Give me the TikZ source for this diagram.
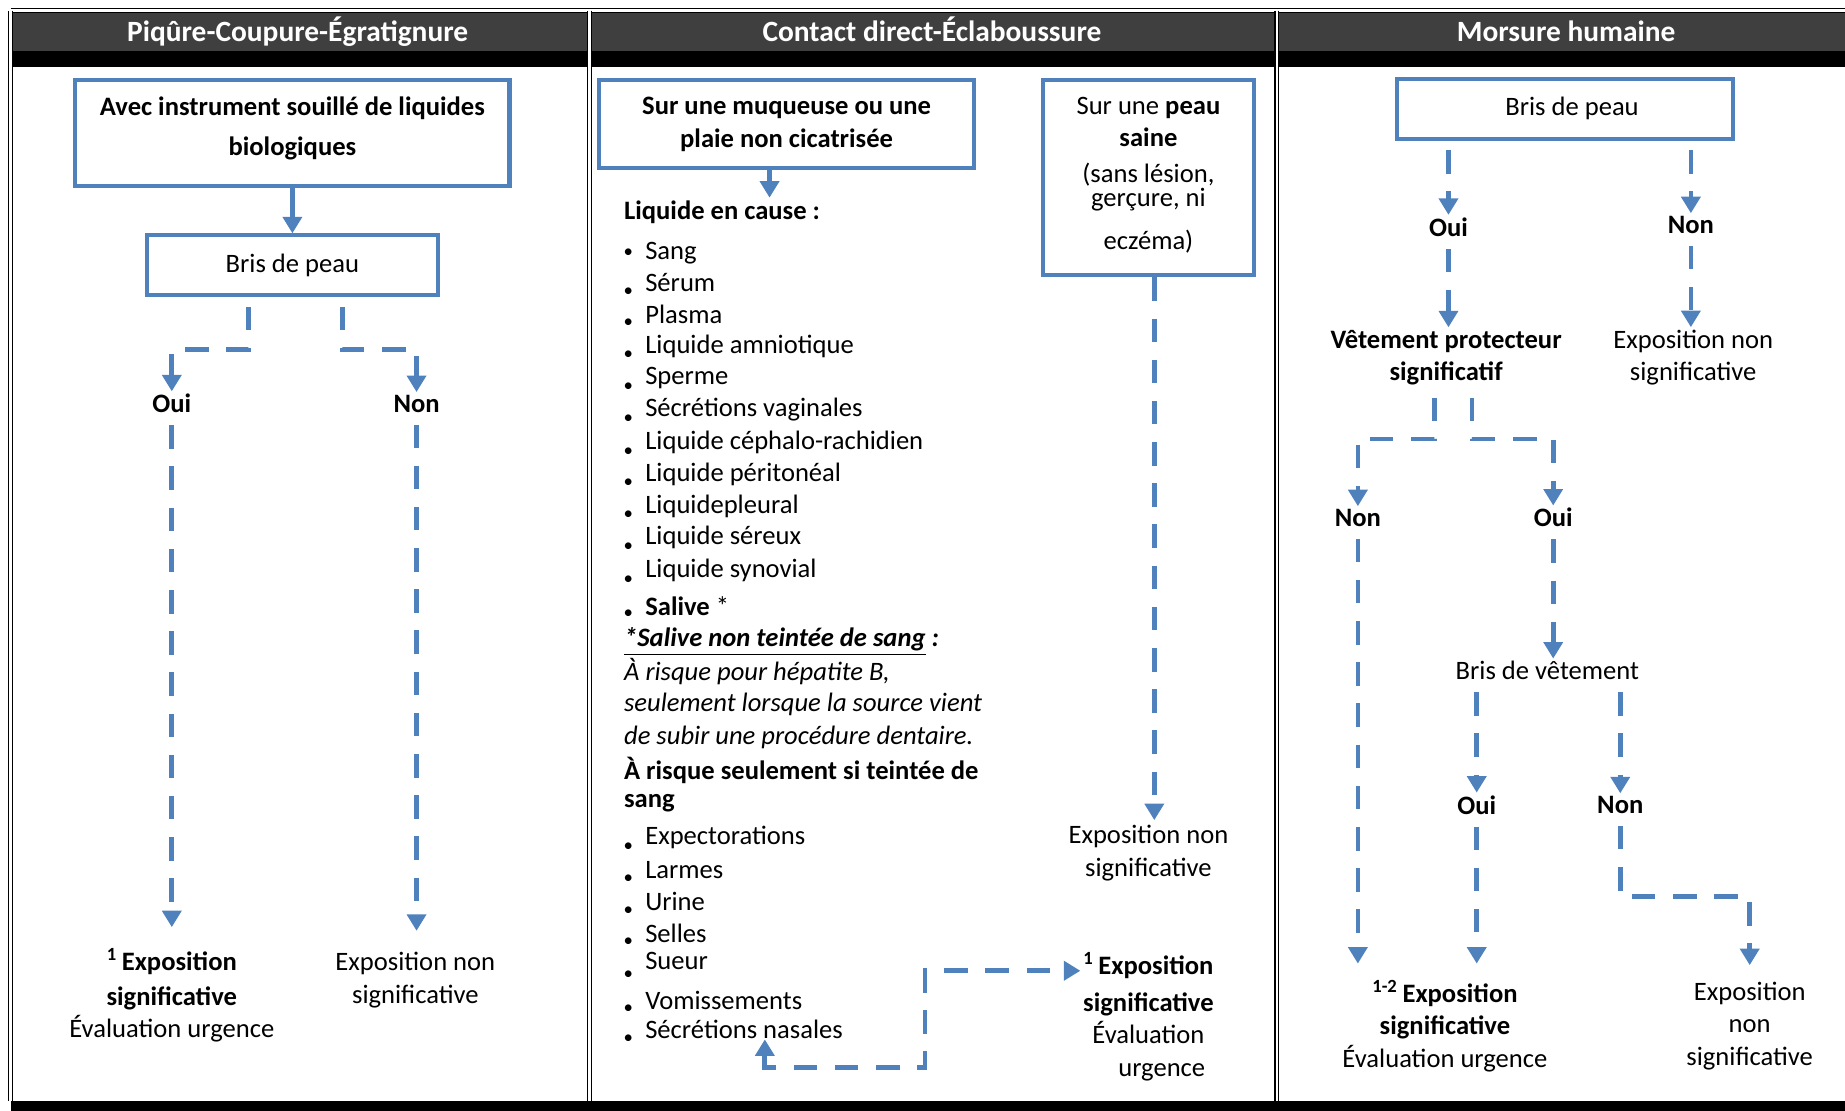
\documentclass[tikz,border=0pt]{standalone}
\usepackage{fontspec}
\setmainfont{Carlito}
\usepackage{xcolor}
\usetikzlibrary{arrows.meta, positioning}

\definecolor{flowblue}{RGB}{79,129,189}
\definecolor{headgrey}{RGB}{63,63,63}

\begin{document}
\begin{tikzpicture}[x=0.5pt, y=-0.5pt, font=\fontsize{11.3}{13.8}\selectfont,
    box/.style={draw=flowblue, line width=1.7pt, align=center, inner sep=0pt},
    txt/.style={align=center, inner sep=1pt},
    dec/.style={font=\fontsize{11.3}{13.8}\selectfont\bfseries, inner sep=1pt},
    head/.style={anchor=base, text=white, font=\fontsize{12.5}{14}\selectfont\bfseries},
    item/.style={anchor=west, inner sep=0pt},
    dot/.style={inner sep=0pt, font=\fontsize{8}{8}\selectfont},
    flow/.style={draw=flowblue, line width=2pt, dash pattern=on 10pt off 7.5pt, shorten <=4pt, -{Triangle[width=8pt, length=7pt]}},
    solidflow/.style={draw=flowblue, line width=2pt, -{Triangle[width=8pt, length=7pt]}}]

  \useasboundingbox (0,0) rectangle (1568,944);
  \fill[headgrey] (9,11) rectangle (1568,43);
  \fill[black] (9,43) rectangle (1568,57);
  \fill[black] (9,936) rectangle (1568,944);
  \draw[double, double distance=1pt, line width=0.5pt] (9,9) -- (1568,9);
  \foreach \x in {9, 501, 1085}
    \draw[double, double distance=1pt, line width=0.5pt] (\x,9) -- (\x,936);

  \node[head] (H1) at (253, 35) {Piqûre-Coupure-Égratignure};
  \node[head] (H2) at (792, 35) {Contact direct-Éclaboussure};
  \node[head] (H3) at (1331, 35) {Morsure humaine};

  \node[box, font=\fontsize{11.3}{13.8}\selectfont\bfseries, minimum width=184.5pt, minimum height=45pt] (A) at (248.5, 113) {Avec instrument souillé de liquides\\[3pt] biologiques\\[-8pt] \mbox{}};
  \node[box, minimum width=123.5pt, minimum height=25.5pt] (B) at (248.5, 225.5) {Bris de peau};
  \node[dec] (OUI1) at (146, 343) {Oui};
  \node[dec] (NON1) at (354, 343) {Non};
  \node[txt] (EXS1) at (146, 846) {\textbf{\textsuperscript{1}\,Exposition}\\[1pt] \textbf{significative}\\ Évaluation urgence};
  \node[txt] (EXN1) at (353, 833) {Exposition non\\ significative};
  \coordinate (J1) at (211, 297);
  \coordinate (J2) at (291, 297);

  \draw[solidflow] (A) -- (B);
  \draw[flow] (J1 |- B.south) -- (J1) -| (OUI1);
  \draw[flow] (J2 |- B.south) -- (J2) -| (NON1);
  \draw[flow, shorten >=8pt] (OUI1) -- (OUI1 |- EXS1.north);
  \draw[flow, shorten >=8pt] (NON1) -- (NON1 |- EXN1.north);

  \node[box, font=\fontsize{11.3}{13.8}\selectfont\bfseries, minimum width=159.5pt, minimum height=37.5pt] (C) at (668.5, 105.5) {Sur une muqueuse ou une\\ plaie non cicatrisée};
  \node[box, minimum width=90pt, minimum height=83pt] (D) at (976, 151) {Sur une \textbf{peau}\\[0pt] \textbf{saine}\\[1.5pt] (sans lésion,\\[-3.8pt] gerçure, ni\\[4.5pt] eczéma)\\[-10pt] \mbox{}};
  \node[item, font=\fontsize{11.3}{13.8}\selectfont\bfseries] (LIQ) at (530, 180) {Liquide en cause :};
  \foreach \y/\d/\t [count=\i] in {215/0/Sang, 240/8/Sérum, 267/8/Plasma, 294/8/Liquide amniotique, 321/8/Sperme,
      348/8/Sécrétions vaginales, 376/8/Liquide céphalo-rachidien, 403/8/Liquide péritonéal, 430/8/Liquidepleural,
      457/8/Liquide séreux, 485/8/Liquide synovial, 515/7/{\textbf{Salive} *}} {
    \node[item] (L\i) at (548, \y) {\t};
    \node[dot] (LB\i) at (534, \y+\d) {\textbullet};
  }
  \node[item, font=\fontsize{11.3}{13.8}\selectfont\bfseries\itshape] (NT) at (530, 545) {\underline{*Salive non teintée de sang} :};
  \node[item, font=\fontsize{11.3}{13.8}\selectfont\itshape] (R1) at (530, 571) {À risque pour hépatite B,};
  \node[item, font=\fontsize{11.3}{13.8}\selectfont\itshape] (R2) at (530, 599) {seulement lorsque la source vient};
  \node[item, font=\fontsize{11.3}{13.8}\selectfont\itshape] (R3) at (530, 627) {de subir une procédure dentaire.};
  \node[item, font=\fontsize{11.3}{13.8}\selectfont\bfseries] (S1) at (530, 655) {À risque seulement si teintée de};
  \node[item, font=\fontsize{11.3}{13.8}\selectfont\bfseries] (S2) at (530, 683) {sang};
  \foreach \y/\d/\t [count=\i] in {712/8/Expectorations, 739/8/Larmes, 766/8/Urine, 793/8/Selles, 817/12/Sueur,
      850/8/Vomissements, 875/8/Sécrétions nasales} {
    \node[item] (M\i) at (548, \y) {\t};
    \node[dot] (MB\i) at (534, \y+\d) {\textbullet};
  }
  \node[txt] (EXN2) at (976, 725) {Exposition non\\ significative};
  \node[txt] (EXS2) at (976, 864) {\textbf{\textsuperscript{1}\,Exposition}\\[2pt] \textbf{significative}\\ Évaluation\\ \hspace*{1em}urgence};
  \coordinate (K0) at (654, 168);
  \coordinate (K1) at (650, 907);
  \coordinate (K2) at (786, 825);
  \coordinate (K3) at (981, 697);

  \draw[solidflow] (C.south -| K0) -- (K0);
  \draw[flow, shorten <=0pt] (D.south -| K3) -- (K3);
  \draw[flow, shorten <=0pt, {Triangle[width=8pt, length=7pt]}-{Triangle[width=8pt, length=7pt]}] (K1 |- M7.south) -- (K1) -| (K2) -- (K2 -| EXS2.west);

  \node[box, minimum width=143pt, minimum height=25.5pt] (E) at (1330, 92.5) {\hspace*{6pt}Bris de peau};
  \node[dec] (OUI3) at (1231, 193) {Oui};
  \node[dec] (NON3) at (1437, 191) {Non};
  \node[txt, font=\fontsize{11.3}{13.8}\selectfont\bfseries] (VET) at (1229, 304) {Vêtement protecteur\\ significatif};
  \node[txt] (EXN3) at (1439, 304) {Exposition non\\ significative};
  \node[dec] (NON4) at (1154, 440) {Non};
  \node[dec] (OUI4) at (1320, 440) {Oui};
  \node[txt] (BV) at (1315, 570) {Bris de vêtement};
  \node[dec] (OUI5) at (1255, 684) {Oui};
  \node[dec] (NON5) at (1377, 684) {Non};
  \node[txt] (EXS3) at (1228, 872) {\textbf{\textsuperscript{1-2}\,Exposition}\\ \textbf{significative}\\ Évaluation urgence};
  \node[txt] (EXN4) at (1487, 872) {Exposition\\ non\\ significative};
  \coordinate (V1) at (1219, 373);
  \coordinate (V2) at (1251, 373);
  \coordinate (V3) at (1430, 762);

  \draw[flow] (E.south -| OUI3) -- (OUI3);
  \draw[flow] (E.south -| NON3) -- (NON3);
  \draw[flow] (OUI3) -- (OUI3 |- VET.north);
  \draw[flow] (NON3) -- (NON3 |- EXN3.north);
  \draw[flow] (V1 |- VET.south) -- (V1) -| (NON4);
  \draw[flow] (V2 |- VET.south) -- (V2) -| (OUI4);
  \draw[flow, shorten >=6pt] (NON4) -- (NON4 |- EXS3.north);
  \draw[flow] (OUI4) -- (OUI4 |- BV.north);
  \draw[flow] (BV.south -| OUI5) -- (OUI5);
  \draw[flow] (BV.south -| NON5) -- (NON5);
  \draw[flow, shorten >=6pt] (OUI5) -- (OUI5 |- EXS3.north);
  \draw[flow, shorten >=6pt] (NON5) |- (V3) -| (EXN4);
\end{tikzpicture}
\end{document}
